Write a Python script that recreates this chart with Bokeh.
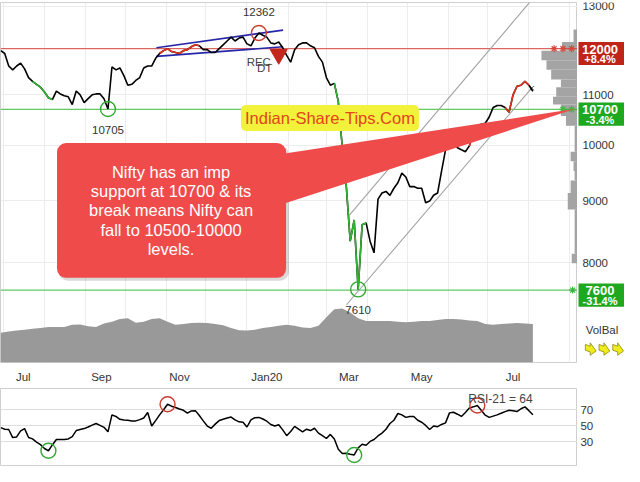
import math
import pandas as pd
from bokeh.plotting import figure
from bokeh.models import (Range1d, LinearScale, FixedTicker, Label, BoxAnnotation,
                          PolyAnnotation)
from bokeh.core.properties import value
from bokeh.layouts import column, row
from bokeh.embed import file_html
from bokeh.resources import INLINE

FONT = "Liberation Sans"
START = pd.Timestamp("2019-06-29")   # first close; closes every 3 days

close = [11956, 11891, 11613, 11529, 11613, 11676, 11550, 11362, 11280, 11218,
         11157, 11055, 10937, 10897, 11076, 11016, 10977, 10955, 10797, 11076,
         10997, 10837, 10917, 10997, 11016, 11016, 10917, 10705, 11592, 11529,
         11570, 11403, 11198, 11218, 11300, 11362, 11570, 11613, 11613, 11783,
         11891, 11956, 12000, 11935, 11913, 11891, 11956, 11978, 12044, 12088,
         12066, 11978, 11978, 11913, 11913, 12000, 12088, 12176, 12265, 12176,
         12243, 12265, 12110, 12066, 12243, 12362, 12310, 12265, 12132, 12110,
         12154, 12022, 11848, 11698, 11978, 12088, 12132, 12132, 12066, 12022,
         11826, 11698, 11362, 11198, 11238, 10856, 9966, 9261, 8337, 8678,
         7610, 8599, 8630, 8337, 8155, 9027, 9132, 9160, 9093, 9215,
         9312, 9483, 9414, 9244, 9244, 9215, 9215, 8967, 8994, 9093,
         9132, 9517, 9911, 10039, 10057, 9948, 9911, 9875, 9984, 10234,
         10372, 10403, 10422, 10545, 10738, 10778, 10778, 10738, 10641, 10997,
         11177, 11198, 11280, 11198, 11073]

rsi = [47.7, 45.7, 45.3, 35.2, 36.0, 43.6, 46.5, 35.2, 33.5, 29.5,
       26.3, 21.4, 18.6, 25.9, 32.7, 32.7, 32.7, 33.5, 36.4, 44.0,
       45.3, 46.5, 48.5, 50.9, 52.9, 50.5, 48.1, 42.4, 63.8, 61.8,
       58.2, 57.4, 57.0, 56.2, 56.2, 57.8, 59.8, 66.7, 49.7, 56.6,
       63.8, 70.3, 77.2, 74.7, 73.1, 71.1, 69.5, 65.9, 68.7, 69.1,
       63.0, 56.2, 49.7, 46.9, 52.1, 56.6, 58.2, 59.8, 61.0, 57.4,
       55.0, 54.5, 48.5, 57.4, 60.2, 60.6, 58.6, 55.8, 51.7, 49.7,
       51.3, 44.9, 37.6, 42.8, 49.3, 45.7, 42.4, 45.7, 44.0, 46.9,
       40.8, 37.6, 34.0, 39.2, 33.5, 20.6, 15.0, 15.4, 14.2, 13.3,
       22.2, 26.7, 25.5, 30.3, 32.7, 37.2, 40.8, 45.7, 52.9, 57.0,
       65.5, 63.8, 60.6, 61.8, 61.8, 57.0, 54.5, 50.5, 45.3, 49.7,
       48.9, 51.7, 53.7, 66.3, 67.1, 64.6, 61.8, 66.7, 72.3, 73.9,
       75.6, 69.5, 63.4, 60.6, 62.2, 63.8, 65.9, 67.9, 69.5, 69.1,
       67.9, 71.5, 73.9, 69.1, 63.8]

# relative volume, every 6 days
volume = [67, 70, 72, 74, 76, 78, 80, 80, 80, 85, 86, 82, 80, 88, 92, 98, 100, 90, 92, 98,
          100, 92, 85, 87, 89, 90, 89, 87, 84, 78, 73, 72, 74, 78, 80, 83, 85, 83, 79, 78,
          83, 102, 120, 122, 113, 100, 94, 94, 94, 94, 92, 91, 92, 94, 94, 96, 98, 98, 97, 95,
          94, 87, 85, 87, 88, 89, 88, 87]

# volume at price
vp_edges = [12445, 12154, 11956, 11741, 11529, 11320, 11157, 10955, 10797, 10563,
            10372, 9875, 9696, 9522, 9351, 9132, 8852, 8141, 7995]
vp_volume = [0.11, 0.43, 1.0, 0.86, 0.73, 0.46, 0.59, 0.68, 0.46, 0.32,
             0.08, 0.19, 0.11, 0.08, 0.19, 0.27, 0.08, 0.16]

resistance = 12000
supports = [10700, 7600]
price_lows = [27, 90]
price_highs = [65]
rsi_lows = [12, 89]
rsi_highs = [42, 120]
green_runs = [(8, 13), (84, 92)]
red_runs = [(40, 50), (118, 120), (127, 133)]

# trend channels (day number, price)
blue_days = [117.6, 213.3]
blue_upper = [12022, 12430]
blue_lower = [11826, 12044]
chan_lower_days = [261.2, 401.1]
chan_lower = [7392, 11137]
chan_upper_days = [263.4, 401.1]
chan_upper = [8757, 13160]

month_ticks = ["2019-07-16", "2019-09-13", "2019-11-11", "2020-01-16",
               "2020-03-18", "2020-05-12", "2020-07-20"]
month_labels = ["Jul", "Sep", "Nov", "Jan20", "Mar", "May", "Jul"]
price_ticks = [8000, 9000, 10000, 11000, 13000]
grid_prices = [8000, 9000, 10000, 11000, 12000, 13000]
rsi_ticks = [30, 50, 70]

callout_lines = ["Nifty has an imp", "support at 10700 & its",
                 "break means Nifty can", "fall to 10500-10000", "levels."]

# ---------------------------------------------------------------
def day_of(s):
    return (pd.Timestamp(s) - START).days

days = [3 * i for i in range(len(close))]
vol_days = [6 * i for i in range(len(volume))]
month_starts = [day_of(d) for d in pd.date_range("2019-07-01", "2020-09-01", freq="MS")]
tick_days = [day_of(d) for d in month_ticks]

X0, X1 = -0.2, 435.7
Y0, Y1 = 6627.0, 13096.0

def DX(xr):
    return X0 + xr * (X1 - X0) / 592.0

def PY(yr):
    return math.exp(math.log(Y1) - (yr - 2.0) * (math.log(Y1) - math.log(Y0)) / 374.0)

YR = Range1d(Y0, Y1)
p = figure(width=577, height=385, x_range=Range1d(X0, X1), y_range=YR,
           y_axis_type="log", y_axis_location="right", output_backend="svg",
           toolbar_location=None, min_border_left=0, min_border_right=0,
           min_border_top=2, min_border_bottom=21)
p.yaxis.visible = False
p.extra_y_ranges = {"vol": Range1d(0, 813)}
p.extra_y_scales = {"vol": LinearScale()}
p.extra_x_ranges = {"vp": Range1d(16.0, 0.0)}
p.extra_x_scales = {"vp": LinearScale()}

p.outline_line_color = "#cfcfcf"
p.xgrid.ticker = FixedTicker(ticks=month_starts)
p.ygrid.ticker = FixedTicker(ticks=grid_prices)
p.xgrid.grid_line_color = "#ececec"
p.ygrid.grid_line_color = "#ececec"

p.xaxis.ticker = FixedTicker(ticks=tick_days)
p.xaxis.major_label_overrides = {d: l for d, l in zip(tick_days, month_labels)}
p.xaxis.axis_line_color = None
p.xaxis.major_tick_line_color = None
p.xaxis.minor_tick_line_color = None
p.xaxis.major_label_text_font = FONT
p.xaxis.major_label_text_font_size = "11.5px"
p.xaxis.major_label_text_color = "#333333"
p.xaxis.major_label_standoff = 2

# volume area and volume-at-price
p.varea(x=vol_days, y1=[0] * len(volume), y2=volume, y_range_name="vol", fill_color="#999999")
p.quad(left=0, right=vp_volume, top=vp_edges[:-1], bottom=vp_edges[1:], x_range_name="vp",
       fill_color="#a4a4a4", line_color=None)

# level lines
p.line([X0, X1], [resistance, resistance], line_color="#d8463e", line_width=1)
for s in supports:
    p.line([X0, X1], [s, s], line_color="#3dba3d", line_width=1)
p.scatter([DX(568), DX(577), DX(586)], [resistance] * 3, marker="asterisk", size=7,
          line_color="#d8463e", line_width=1.2)
p.scatter([DX(577), DX(586)], [supports[0]] * 2, marker="asterisk", size=7,
          line_color="#3dba3d", line_width=1.2)
p.scatter([DX(587)], [supports[1]], marker="asterisk", size=7, line_color="#3dba3d", line_width=1.2)

# channels
p.line(chan_lower_days, chan_lower, line_color="#a2a2a2", line_width=1.1)
p.line(chan_upper_days, chan_upper, line_color="#a2a2a2", line_width=1.1)
p.scatter([chan_lower_days[-1]], [chan_lower[-1]], marker="x", size=6, line_color="#555555")
p.line(blue_days, blue_upper, line_color="#2626a8", line_width=1.6)
p.line(blue_days, blue_lower, line_color="#2626a8", line_width=1.6)

# price
p.line(days, close, line_color="black", line_width=1.6)
p.multi_line([days[a:b + 1] for a, b in green_runs], [close[a:b + 1] for a, b in green_runs],
             line_color="#2fb52f", line_width=1.6)
p.multi_line([days[a:b + 1] for a, b in red_runs], [close[a:b + 1] for a, b in red_runs],
             line_color="#e0321e", line_width=1.6)

p.scatter([days[i] for i in price_lows], [close[i] for i in price_lows], marker="circle",
          size=15, fill_color=None, line_color="#33aa33", line_width=1.4)
p.scatter([days[i] for i in price_highs], [close[i] for i in price_highs], marker="circle",
          size=15, fill_color=None, line_color="#cc3a30", line_width=1.4)

# REC DT signal
p.scatter([days[70]], [11870], marker="inverted_triangle", size=17, fill_color="#c2281c",
          line_color="#c2281c")

def txt(fig, x, y, t, size="11.5px", color="#333333", align="center", **kw):
    fig.add_layout(Label(x=x, y=y, text=t, text_align=align, text_baseline="middle",
                         text_font=FONT, text_font_size=size, text_color=color, **kw))

for i in price_highs:
    txt(p, days[i], close[i], str(close[i]), y_offset=21)
for i in price_lows:
    txt(p, days[i], close[i], str(close[i]), y_offset=-21)
txt(p, DX(265), PY(64), "REC", color="#444444")
txt(p, DX(271), PY(70), "DT", color="#444444")

# callout
p.add_layout(BoxAnnotation(left=DX(60), right=DX(296), top=PY(151), bottom=PY(291),
                           fill_color="#000000", fill_alpha=0.15, line_color=None, border_radius=9))
p.add_layout(PolyAnnotation(xs=[DX(285), DX(590), DX(285)], ys=[PY(160), PY(112.5), PY(213)],
                            fill_color="#f04b4b", fill_alpha=1, line_color=None))
p.add_layout(BoxAnnotation(left=DX(58), right=DX(293), top=PY(148), bottom=PY(288),
                           fill_color="#f04b4b", fill_alpha=1, line_color=None, border_radius=9))
for k, t in enumerate(callout_lines):
    txt(p, DX(175), PY(178 + 20 * k), t, size="16.5px", color="white")

# watermark
p.add_layout(Label(x=DX(338), y=PY(122), text="Indian-Share-Tips.Com", text_align="center",
                   text_baseline="middle", text_font=FONT, text_font_size="16.5px",
                   text_color="#e2441c", background_fill_color="#f2f23a", background_fill_alpha=1,
                   padding=4, border_radius=5))

# ---------------- right strip of the price panel ----------------
pr = figure(width=47, height=385, x_range=Range1d(592, 640), y_range=YR, y_axis_type="log",
            x_axis_location=None, y_axis_location=None, output_backend="svg",
            toolbar_location=None, min_border_left=0, min_border_right=0,
            min_border_top=2, min_border_bottom=21)
pr.outline_line_color = None
pr.xgrid.visible = False
pr.ygrid.visible = False

pr.text(x=[597] * len(price_ticks), y=price_ticks, text=[str(t) for t in price_ticks],
        text_align="left", text_baseline="middle", text_font=value(FONT),
        text_font_size="11.5px", text_color="#333333")

last = close[-1]
lvl_vals = [resistance, supports[0], supports[1]]
lvl_cols = ["#bf2418", "#1fa81f", "#1fa81f"]
lvl_top = [43, 106, 294]
pr.quad(left=593, right=641, top=[PY(t) for t in lvl_top], bottom=[PY(t + 24) for t in lvl_top],
        fill_color=lvl_cols, line_color=None)
pr.text(x=[615] * 3, y=[PY(t + 7.5) for t in lvl_top], text=[str(v) for v in lvl_vals],
        text_align="center", text_baseline="middle", text_font=value(FONT),
        text_font_size="13px", text_font_style="bold", text_color="white")
pr.text(x=[615] * 3, y=[PY(t + 18) for t in lvl_top],
        text=[f"{(v / last - 1) * 100:+.1f}%" for v in lvl_vals],
        text_align="center", text_baseline="middle", text_font=value(FONT),
        text_font_size="11px", text_font_style="bold", text_color="white")

pr.text(x=[617], y=[PY(342)], text=["VolBal"], text_align="center", text_baseline="middle",
        text_font=value(FONT), text_font_size="11.5px", text_color="#333333")
arrow_x = [605, 619, 633]
shape = [(-5, -3), (0, -3), (0, -6.5), (6, 0), (0, 6.5), (0, 3), (-5, 3)]
pr.patches(xs=[[cx + dx for dx, dy in shape] for cx in arrow_x],
           ys=[[PY(362 + dy + 0.35 * dx) for dx, dy in shape] for cx in arrow_x],
           fill_color="#f0ec1a", line_color="#8c8a10", line_width=0.8)

# ---------------- RSI panel ----------------
RR = Range1d(0, 97)
r = figure(width=577, height=81, x_range=p.x_range, y_range=RR,
           y_axis_location="right", output_backend="svg", toolbar_location=None,
           min_border_left=0, min_border_right=0, min_border_top=3, min_border_bottom=1)
r.outline_line_color = "#cfcfcf"
r.xaxis.visible = False
r.yaxis.visible = False
r.xgrid.visible = False
r.ygrid.ticker = FixedTicker(ticks=rsi_ticks)
r.ygrid.grid_line_color = "#dedede"

r.line(days, rsi, line_color="black", line_width=1.5)
r.scatter([days[i] for i in rsi_lows], [rsi[i] for i in rsi_lows], marker="circle", size=15,
          fill_color=None, line_color="#33aa33", line_width=1.4)
r.scatter([days[i] for i in rsi_highs], [rsi[i] for i in rsi_highs], marker="circle", size=15,
          fill_color=None, line_color="#cc3a30", line_width=1.4)
txt(r, DX(546), 83.7, f"RSI-21 = {round(rsi[-1])}", size="12px", color="#444444", align="right")

rr = figure(width=47, height=81, x_range=Range1d(592, 640), y_range=RR,
            x_axis_location=None, y_axis_location=None, output_backend="svg",
            toolbar_location=None, min_border_left=0, min_border_right=0,
            min_border_top=3, min_border_bottom=1)
rr.outline_line_color = None
rr.xgrid.visible = False
rr.ygrid.visible = False
rr.text(x=[595] * 3, y=rsi_ticks, text=[str(t) for t in rsi_ticks], text_align="left",
        text_baseline="middle", text_font=value(FONT), text_font_size="11.5px",
        text_color="#333333")

layout = column(row(p, pr), row(r, rr))
open("out.html", "w").write(file_html(layout, INLINE))
